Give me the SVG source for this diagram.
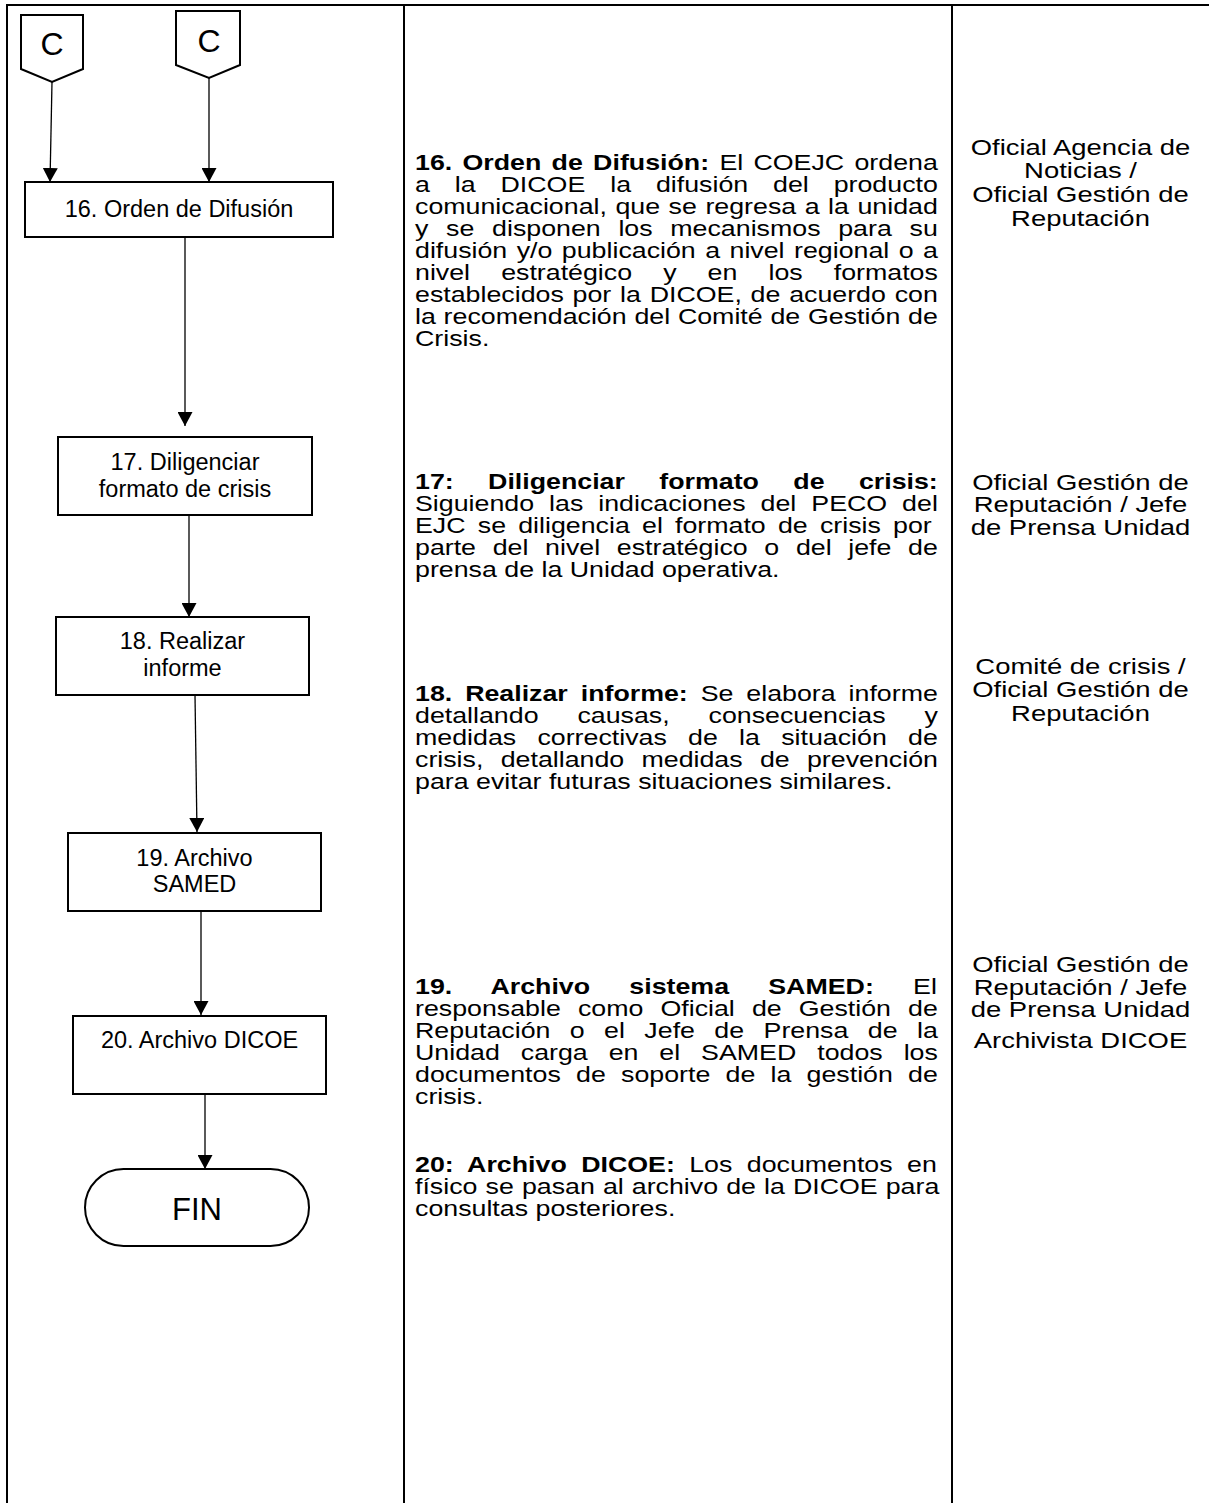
<svg xmlns="http://www.w3.org/2000/svg" width="1209" height="1503" viewBox="0 0 1209 1503">
<defs>
<style>
.tbl{stroke:#000;stroke-width:2;fill:none}
.box{fill:#fff;stroke:#000;stroke-width:2}
.ln{stroke:#000;stroke-width:1.3;fill:none}
.n{font-family:"Liberation Sans",Arial,sans-serif;font-size:23.5px;fill:#000;text-anchor:middle}
.big{font-family:"Liberation Sans",Arial,sans-serif;font-size:32px;fill:#000;text-anchor:middle}
.d{font-family:"Liberation Sans",Arial,sans-serif;font-size:22.5px;fill:#000}
.r{font-family:"Liberation Sans",Arial,sans-serif;font-size:22.5px;fill:#000;text-anchor:middle}
.b{font-weight:bold}
</style>
<marker id="ah" markerUnits="userSpaceOnUse" markerWidth="15" markerHeight="15" refX="14" refY="7.5" orient="auto">
<path d="M0,0 L14,7.5 L0,15 z" fill="#000"/>
</marker>
</defs>
<rect width="1209" height="1503" fill="#fff"/>
<g id="table">
<line class="tbl" x1="6" y1="5" x2="1209" y2="5"/>
<line class="tbl" x1="7" y1="4" x2="7" y2="1503"/>
<line class="tbl" x1="404" y1="5" x2="404" y2="1503"/>
<line class="tbl" x1="952" y1="5" x2="952" y2="1503"/>
</g>
<g id="connectors">
<path class="ln" d="M52,82 L50,182" marker-end="url(#ah)"/>
<path class="ln" d="M209,78 L209,182" marker-end="url(#ah)"/>
<path class="ln" d="M185,237 L185,426" marker-end="url(#ah)"/>
<path class="ln" d="M189,515 L189,617" marker-end="url(#ah)"/>
<path class="ln" d="M195,695 L197,832" marker-end="url(#ah)"/>
<path class="ln" d="M201,911 L201,1015" marker-end="url(#ah)"/>
<path class="ln" d="M205,1094 L205,1169" marker-end="url(#ah)"/>
</g>
<g id="conn-c1">
<polygon class="box" points="21,15 83,15 83,69 52,82 21,69"/>
<text class="big" x="52" y="55">C</text>
</g>
<g id="conn-c2">
<polygon class="box" points="176,11 240,11 240,65 209,78 176,65"/>
<text class="big" x="209" y="52">C</text>
</g>
<g id="node-16">
<rect class="box" x="25" y="182" width="308" height="55"/>
<text class="n" x="179" y="217">16. Orden de Difusión</text>
</g>
<g id="node-17">
<rect class="box" x="58" y="437" width="254" height="78"/>
<text class="n" x="185" y="470">17. Diligenciar</text>
<text class="n" x="185" y="497">formato de crisis</text>
</g>
<g id="node-18">
<rect class="box" x="56" y="617" width="253" height="78"/>
<text class="n" x="182.5" y="649">18. Realizar</text>
<text class="n" x="182.5" y="676">informe</text>
</g>
<g id="node-19">
<rect class="box" x="68" y="833" width="253" height="78"/>
<text class="n" x="194.5" y="866">19. Archivo</text>
<text class="n" x="194.5" y="892">SAMED</text>
</g>
<g id="node-20">
<rect class="box" x="73" y="1016" width="253" height="78"/>
<text class="n" x="199.5" y="1048">20. Archivo DICOE</text>
</g>
<g id="node-fin">
<rect class="box" x="85" y="1169" width="224" height="77" rx="38.5" ry="38.5"/>
<text class="big" x="197" y="1220" style="font-size:31px">FIN</text>
</g>
<g id="descriptions">
<text class="d" transform="translate(415,170) scale(1.19,1)" word-spacing="2.4"><tspan class="b">16. Orden de Difusión:</tspan> El COEJC ordena</text>
<text class="d" transform="translate(415,192) scale(1.19,1)" word-spacing="14.68">a la DICOE la difusión del producto</text>
<text class="d" transform="translate(415,214) scale(1.19,1)" word-spacing="0.92">comunicacional, que se regresa a la unidad</text>
<text class="d" transform="translate(415,236) scale(1.19,1)" word-spacing="8.63">y se disponen los mecanismos para su</text>
<text class="d" transform="translate(415,258) scale(1.19,1)" word-spacing="1.69">difusión y/o publicación a nivel regional o a</text>
<text class="d" transform="translate(415,280) scale(1.19,1)" word-spacing="19.88">nivel estratégico y en los formatos</text>
<text class="d" transform="translate(415,302) scale(1.19,1)" word-spacing="1.13">establecidos por la DICOE, de acuerdo con</text>
<text class="d" transform="translate(415,324) scale(1.19,1)" word-spacing="0.3">la recomendación del Comité de Gestión de</text>
<text class="d" transform="translate(415,346) scale(1.19,1)">Crisis.</text>

<text class="d" transform="translate(415,489) scale(1.19,1)" word-spacing="22.65"><tspan class="b">17: Diligenciar formato de crisis:</tspan></text>
<text class="d" transform="translate(415,511) scale(1.19,1)" word-spacing="6.36">Siguiendo las indicaciones del PECO del</text>
<text class="d" transform="translate(415,533) scale(1.19,1)" word-spacing="4.0">EJC se diligencia el formato de crisis por</text>
<text class="d" transform="translate(415,555) scale(1.19,1)" word-spacing="7.76">parte del nivel estratégico o del jefe de</text>
<text class="d" transform="translate(415,577) scale(1.19,1)">prensa de la Unidad operativa.</text>

<text class="d" transform="translate(415,701) scale(1.19,1)" word-spacing="4.62"><tspan class="b">18. Realizar informe:</tspan> Se elabora informe</text>
<text class="d" transform="translate(415,723) scale(1.19,1)" word-spacing="26.43">detallando causas, consecuencias y</text>
<text class="d" transform="translate(415,745) scale(1.19,1)" word-spacing="11.62">medidas correctivas de la situación de</text>
<text class="d" transform="translate(415,767) scale(1.19,1)" word-spacing="8.28">crisis, detallando medidas de prevención</text>
<text class="d" transform="translate(415,789) scale(1.19,1)">para evitar futuras situaciones similares.</text>

<text class="d" transform="translate(415,994) scale(1.19,1)" word-spacing="26.73"><tspan class="b">19. Archivo sistema SAMED:</tspan> El</text>
<text class="d" transform="translate(415,1016) scale(1.19,1)" word-spacing="8.12">responsable como Oficial de Gestión de</text>
<text class="d" transform="translate(415,1038) scale(1.19,1)" word-spacing="10.07">Reputación o el Jefe de Prensa de la</text>
<text class="d" transform="translate(415,1060) scale(1.19,1)" word-spacing="11.35">Unidad carga en el SAMED todos los</text>
<text class="d" transform="translate(415,1082) scale(1.19,1)" word-spacing="6.55">documentos de soporte de la gestión de</text>
<text class="d" transform="translate(415,1104) scale(1.19,1)">crisis.</text>

<text class="d" transform="translate(415,1172) scale(1.19,1)" word-spacing="5.86"><tspan class="b">20: Archivo DICOE:</tspan> Los documentos en</text>
<text class="d" transform="translate(415,1194) scale(1.19,1)" word-spacing="0.54">físico se pasan al archivo de la DICOE para</text>
<text class="d" transform="translate(415,1216) scale(1.19,1)">consultas posteriores.</text>
</g>
<g id="responsibles">
<text class="r" transform="translate(1080.5,154.5) scale(1.22,1)">Oficial Agencia de</text>
<text class="r" transform="translate(1080.5,178.2) scale(1.22,1)">Noticias /</text>
<text class="r" transform="translate(1080.5,201.9) scale(1.22,1)">Oficial Gestión de</text>
<text class="r" transform="translate(1080.5,225.6) scale(1.22,1)">Reputación</text>

<text class="r" transform="translate(1080.5,489.5) scale(1.22,1)">Oficial Gestión de</text>
<text class="r" transform="translate(1080.5,512) scale(1.22,1)">Reputación / Jefe</text>
<text class="r" transform="translate(1080.5,534.5) scale(1.22,1)">de Prensa Unidad</text>

<text class="r" transform="translate(1080.5,673.5) scale(1.22,1)">Comité de crisis /</text>
<text class="r" transform="translate(1080.5,697) scale(1.22,1)">Oficial Gestión de</text>
<text class="r" transform="translate(1080.5,720.5) scale(1.22,1)">Reputación</text>

<text class="r" transform="translate(1080.5,971.5) scale(1.22,1)">Oficial Gestión de</text>
<text class="r" transform="translate(1080.5,994.5) scale(1.22,1)">Reputación / Jefe</text>
<text class="r" transform="translate(1080.5,1017) scale(1.22,1)">de Prensa Unidad</text>

<text class="r" transform="translate(1080.5,1047.5) scale(1.22,1)">Archivista DICOE</text>
</g>
</svg>
